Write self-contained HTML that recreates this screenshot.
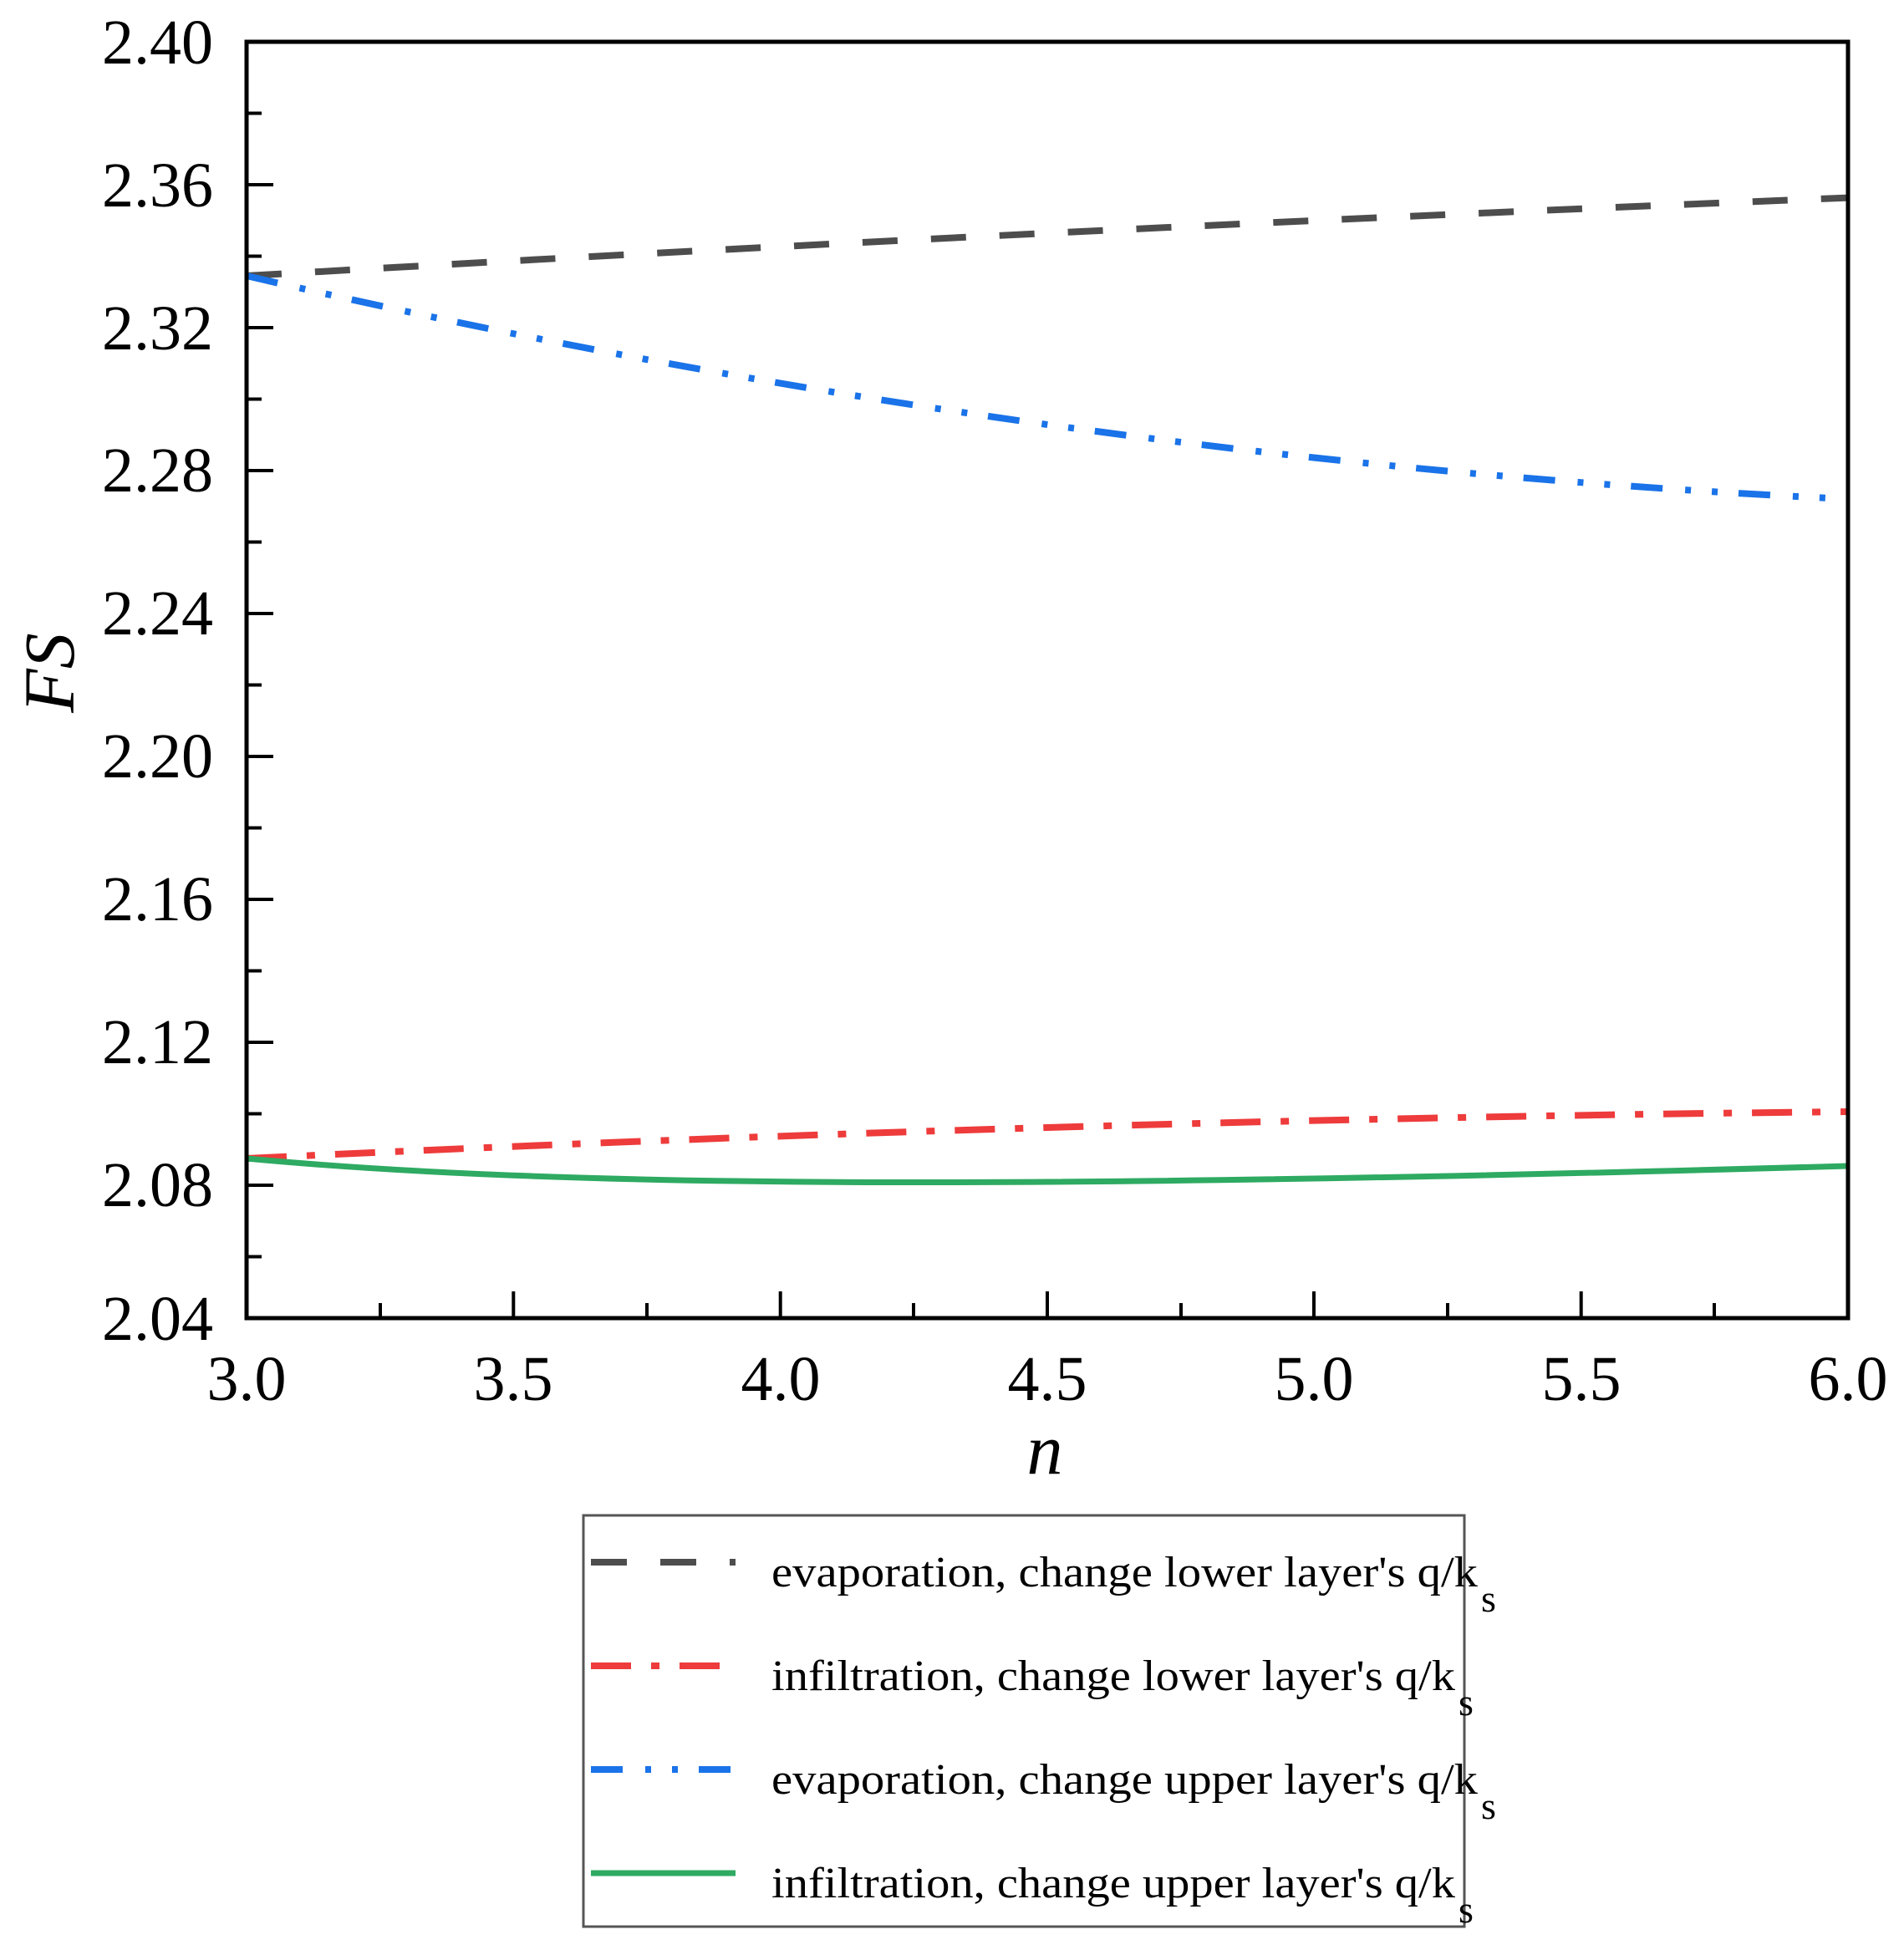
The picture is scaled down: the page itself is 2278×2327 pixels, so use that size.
<!DOCTYPE html>
<html><head><meta charset="utf-8"><style>html,body{margin:0;padding:0;background:#fff}svg{display:block}</style></head>
<body>
<svg width="2278" height="2327" viewBox="0 0 2278 2327" xmlns="http://www.w3.org/2000/svg" font-family="Liberation Serif, serif">
<rect width="2278" height="2327" fill="#fff"/>
<g fill="none" stroke-linecap="butt">
<path d="M295,330 Q1253,274.7 2211,236.6" stroke="#4d4d4d" stroke-width="8" stroke-dasharray="42,40"/>
<path d="M295,330 Q1253,552.5 2211,597" stroke="#1a73e8" stroke-width="8" stroke-dasharray="38,27,7,25,7,25"/>
<path d="M295,1386 Q1253,1340 2211,1330" stroke="#ee3b3b" stroke-width="8" stroke-dasharray="48,24,10,24"/>
<path d="M295,1386 C700,1424 1300,1421 2211,1395" stroke="#2eaa62" stroke-width="7"/>
</g>
<rect x="295" y="50" width="1916" height="1527" fill="none" stroke="#000" stroke-width="5"/>
<g stroke="#000" stroke-width="4">
<path d="M295,50h32M295,135.5h18M295,221h32M295,306.5h18M295,392h32M295,477.5h18M295,563h32M295,648.5h18M295,734h32M295,819.5h18M295,905h32M295,990.5h18M295,1076h32M295,1161.5h18M295,1247h32M295,1332.5h18M295,1418h32M295,1503.5h18"/>
<path d="M455,1577v-18M614.3,1577v-32M774,1577v-18M933.7,1577v-32M1093,1577v-18M1253,1577v-32M1413,1577v-18M1572,1577v-32M1732,1577v-18M1891.7,1577v-32M2051,1577v-18"/>
</g>
<g font-size="76" fill="#000" text-anchor="end">
<text x="255" y="76">2.40</text>
<text x="255" y="247">2.36</text>
<text x="255" y="418">2.32</text>
<text x="255" y="588">2.28</text>
<text x="255" y="759">2.24</text>
<text x="255" y="930">2.20</text>
<text x="255" y="1101">2.16</text>
<text x="255" y="1272">2.12</text>
<text x="255" y="1443">2.08</text>
<text x="255" y="1603">2.04</text>
</g>
<g font-size="76" fill="#000" text-anchor="middle">
<text x="295" y="1675">3.0</text>
<text x="614" y="1675">3.5</text>
<text x="934" y="1675">4.0</text>
<text x="1253" y="1675">4.5</text>
<text x="1572" y="1675">5.0</text>
<text x="1892" y="1675">5.5</text>
<text x="2211" y="1675">6.0</text>
</g>
<text x="1250" y="1763" font-size="86" font-style="italic" text-anchor="middle">n</text>
<text transform="translate(88,805) rotate(-90)" font-size="86" font-style="italic" text-anchor="middle">FS</text>
<rect x="698" y="1813" width="1054" height="492" fill="#fff" stroke="#555" stroke-width="3"/>
<g fill="none">
<path d="M707,1869H880" stroke="#4d4d4d" stroke-width="8" stroke-dasharray="43,40"/>
<path d="M707,1993H880" stroke="#ee3b3b" stroke-width="8" stroke-dasharray="48,24,10,24"/>
<path d="M707,2117H880" stroke="#1a73e8" stroke-width="8" stroke-dasharray="38,27,7,25,7,25"/>
<path d="M707,2241H880" stroke="#2eaa62" stroke-width="7"/>
</g>
<g font-size="52" fill="#000">
<text x="923" y="1898" textLength="845" lengthAdjust="spacingAndGlyphs">evaporation, change lower layer's q/k</text>
<text x="1772" y="1928" font-size="46">s</text>
<text x="923" y="2022" textLength="818" lengthAdjust="spacingAndGlyphs">infiltration, change lower layer's q/k</text>
<text x="1745" y="2052" font-size="46">s</text>
<text x="923" y="2146" textLength="845" lengthAdjust="spacingAndGlyphs">evaporation, change upper layer's q/k</text>
<text x="1772" y="2176" font-size="46">s</text>
<text x="923" y="2270" textLength="818" lengthAdjust="spacingAndGlyphs">infiltration, change upper layer's q/k</text>
<text x="1745" y="2300" font-size="46">s</text>
</g>
</svg>
</body></html>
